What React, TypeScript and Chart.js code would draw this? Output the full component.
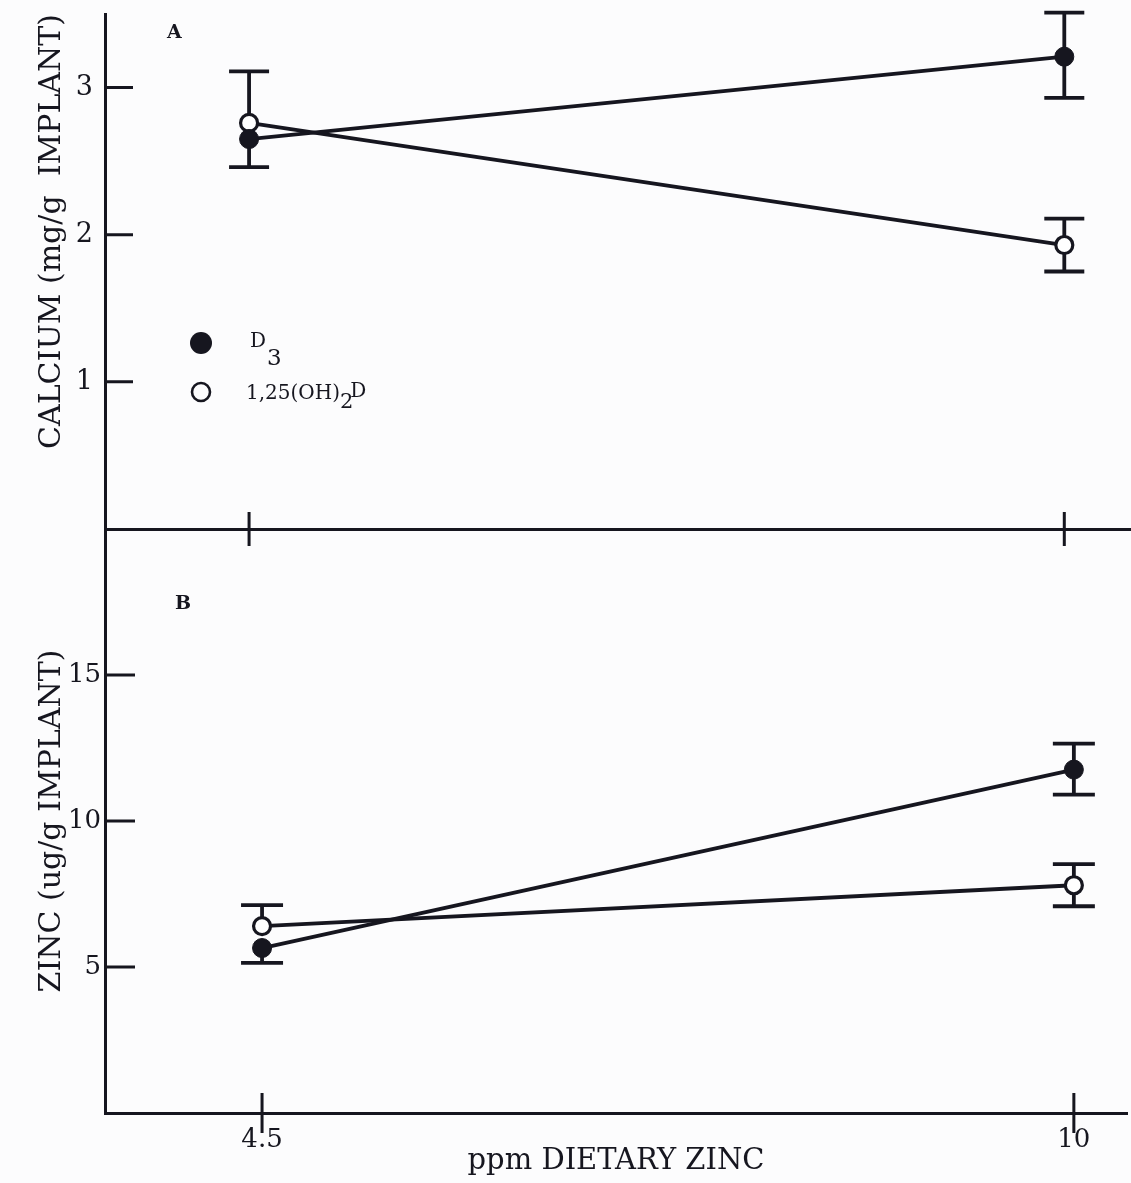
import { useEffect, useRef } from "react";
import { Chart, registerables } from "chart.js";

Chart.register(...registerables);

// Dietary zinc levels (ppm) on the shared x axis
const DIETARY_ZINC = [4.5, 10];
const X_TICKS = [4.5, 10];
const X_TICK_LABELS = ["4.5", "10"];

// Panel A: implant calcium (mg/g)
const CALCIUM_TICKS = [1, 2, 3];
const CALCIUM_D3 = [2.65, 3.21];
const CALCIUM_D3_SE_UP = [0, 0.3];
const CALCIUM_D3_SE_DOWN = [0.19, 0.28];
const CALCIUM_125 = [2.76, 1.93];
const CALCIUM_125_SE_UP = [0.35, 0.18];
const CALCIUM_125_SE_DOWN = [0, 0.18];

// Panel B: implant zinc (ug/g)
const ZINC_TICKS = [5, 10, 15];
const ZINC_D3 = [5.65, 11.76];
const ZINC_D3_SE_UP = [0, 0.89];
const ZINC_D3_SE_DOWN = [0.51, 0.86];
const ZINC_125 = [6.4, 7.8];
const ZINC_125_SE_UP = [0.72, 0.72];
const ZINC_125_SE_DOWN = [0, 0.72];

const INK = "#16161f";
const SERIF = '"DejaVu Serif", "Liberation Serif", serif';
const W = 1131;
const H_A = 550;
const H_B = 654;

function series(label: string, values: number[], seUp: number[], seDown: number[], filled: boolean) {
  return {
    label,
    data: DIETARY_ZINC.map((x, i) => ({ x, y: values[i] })),
    seUp,
    seDown,
    borderColor: INK,
    borderWidth: 3.8,
    pointRadius: filled ? 9.5 : 8.5,
    pointBorderWidth: filled ? 1 : 3.2,
    pointBackgroundColor: filled ? INK : "#ffffff",
    pointBorderColor: INK,
    pointHoverRadius: filled ? 9.5 : 8.5,
    showLine: true,
    fill: false,
    tension: 0,
  };
}

// Vertical standard-error bars with caps, drawn beneath lines and markers
function errorBarsPlugin(capHalf: number) {
  return {
    id: "errorBars",
    beforeDatasetsDraw(chart: any) {
      const { ctx } = chart;
      const xs = chart.scales.x;
      const ys = chart.scales.y;
      ctx.save();
      ctx.strokeStyle = INK;
      ctx.lineWidth = 3.8;
      chart.data.datasets.forEach((ds: any) => {
        ds.data.forEach((p: any, i: number) => {
          const up = ds.seUp[i];
          const dn = ds.seDown[i];
          const x = xs.getPixelForValue(p.x);
          const yTop = ys.getPixelForValue(p.y + up);
          const yBot = ys.getPixelForValue(p.y - dn);
          ctx.beginPath();
          ctx.moveTo(x, yTop);
          ctx.lineTo(x, yBot);
          if (up > 0) {
            ctx.moveTo(x - capHalf, yTop);
            ctx.lineTo(x + capHalf, yTop);
          }
          if (dn > 0) {
            ctx.moveTo(x - capHalf, yBot);
            ctx.lineTo(x + capHalf, yBot);
          }
          ctx.stroke();
        });
      });
      ctx.restore();
    },
  };
}

// Inward y tick marks and x tick marks that cross the axis line
function tickMarksPlugin(yLen: number, xHalf: number) {
  return {
    id: "tickMarks",
    afterDraw(chart: any) {
      const { ctx, chartArea } = chart;
      const xs = chart.scales.x;
      const ys = chart.scales.y;
      ctx.save();
      ctx.strokeStyle = INK;
      ctx.lineWidth = 3;
      ctx.beginPath();
      ys.ticks.forEach((t: any) => {
        const y = ys.getPixelForValue(t.value);
        ctx.moveTo(chartArea.left, y);
        ctx.lineTo(chartArea.left + yLen, y);
      });
      xs.ticks.forEach((t: any) => {
        const x = xs.getPixelForValue(t.value);
        ctx.moveTo(x, chartArea.bottom - xHalf);
        ctx.lineTo(x, chartArea.bottom + xHalf);
      });
      ctx.stroke();
      ctx.restore();
    },
  };
}

function panelLetterPlugin(letter: string, dx: number, dy: number) {
  return {
    id: "panelLetter",
    afterDraw(chart: any) {
      const { ctx, chartArea } = chart;
      ctx.save();
      ctx.fillStyle = INK;
      ctx.font = `bold 19px ${SERIF}`;
      ctx.textAlign = "left";
      ctx.textBaseline = "middle";
      ctx.fillText(letter, chartArea.left + dx, chartArea.top + dy);
      ctx.restore();
    },
  };
}

// Key for the two treatments, with sub/superscript placement of the labels
const legendPlugin = {
  id: "treatmentKey",
  afterDraw(chart: any) {
    const { ctx, chartArea } = chart;
    const mx = chartArea.left + 96;
    const y1 = chartArea.top + 329;
    const y2 = chartArea.top + 378;
    ctx.save();
    ctx.fillStyle = INK;
    ctx.strokeStyle = INK;
    ctx.beginPath();
    ctx.arc(mx, y1, 11, 0, Math.PI * 2);
    ctx.fill();
    ctx.lineWidth = 2.6;
    ctx.beginPath();
    ctx.arc(mx, y2, 9, 0, Math.PI * 2);
    ctx.stroke();

    ctx.textAlign = "left";
    ctx.textBaseline = "alphabetic";
    ctx.font = `20px ${SERIF}`;
    const tx = chartArea.left + 145;
    ctx.fillText("D", tx, y1 + 4);
    const dW = ctx.measureText("D").width;
    ctx.font = `23px ${SERIF}`;
    ctx.fillText("3", tx + dW + 1, y1 + 22);

    ctx.font = `20px ${SERIF}`;
    const main = "1,25(OH)";
    const t2x = chartArea.left + 141;
    ctx.fillText(main, t2x, y2 + 7);
    const mW = ctx.measureText(main).width;
    ctx.font = `21px ${SERIF}`;
    ctx.fillText("2", t2x + mW, y2 + 16);
    const twoW = ctx.measureText("2").width;
    ctx.font = `20px ${SERIF}`;
    ctx.fillText("D", t2x + mW + twoW - 3, y2 + 5);
    ctx.restore();
  },
};

function baseOptions(opts: {
  xMin: number;
  xMax: number;
  yMin: number;
  yMax: number;
  yTicks: number[];
  yTitle: string;
  yTitleAlign: "start" | "center" | "end";
  yTickSize: number;
  yTickPadding: number;
  showXLabels: boolean;
  xAxisHeight: number;
  padTop: number;
  padRight: number;
}) {
  const noScalePadding = (s: any) => {
    s.paddingTop = 0;
    s.paddingBottom = 0;
    s.paddingLeft = 0;
    s.paddingRight = 0;
  };
  return {
    responsive: false,
    animation: false as const,
    events: [],
    layout: {
      autoPadding: false,
      padding: { top: opts.padTop, right: opts.padRight, left: 0, bottom: 0 },
    },
    plugins: {
      legend: { display: false },
      tooltip: { enabled: false },
    },
    scales: {
      x: {
        type: "linear" as const,
        min: opts.xMin,
        max: opts.xMax,
        afterBuildTicks: (s: any) => {
          s.ticks = X_TICKS.map((v) => ({ value: v }));
        },
        afterFit: (s: any) => {
          s.height = opts.xAxisHeight;
          noScalePadding(s);
        },
        grid: { display: false, drawTicks: false },
        border: { display: true, color: INK, width: 3 },
        ticks: {
          display: opts.showXLabels,
          padding: 12,
          color: INK,
          font: { family: SERIF, size: 26 },
          callback: (_v: any, i: number) => X_TICK_LABELS[i],
        },
        title: {
          display: opts.showXLabels,
          text: "ppm DIETARY ZINC",
          color: INK,
          font: { family: SERIF, size: 29 },
          padding: { top: 0, bottom: 4 },
        },
      },
      y: {
        type: "linear" as const,
        min: opts.yMin,
        max: opts.yMax,
        afterBuildTicks: (s: any) => {
          s.ticks = opts.yTicks.map((v) => ({ value: v }));
        },
        afterFit: (s: any) => {
          s.width = 105;
          noScalePadding(s);
        },
        grid: { display: false, drawTicks: false },
        border: { display: true, color: INK, width: 3 },
        ticks: {
          padding: opts.yTickPadding,
          color: INK,
          font: { family: SERIF, size: opts.yTickSize },
          callback: (v: any) => String(v),
        },
        title: {
          display: true,
          text: opts.yTitle,
          align: opts.yTitleAlign,
          color: INK,
          font: { family: SERIF, size: 30 },
          padding: { top: 34, bottom: 0 },
        },
      },
    },
  };
}

export default function App() {
  const aRef = useRef<HTMLCanvasElement>(null);
  const bRef = useRef<HTMLCanvasElement>(null);

  useEffect(() => {
    const chartA = new Chart(aRef.current as HTMLCanvasElement, {
      type: "line",
      data: {
        datasets: [
          series("D3", CALCIUM_D3, CALCIUM_D3_SE_UP, CALCIUM_D3_SE_DOWN, true),
          series("1,25(OH)2D", CALCIUM_125, CALCIUM_125_SE_UP, CALCIUM_125_SE_DOWN, false),
        ] as any,
      },
      options: baseOptions({
        xMin: 3.528,
        xMax: 10.45,
        yMin: 0,
        yMax: 3.5,
        yTicks: CALCIUM_TICKS,
        yTitle: "CALCIUM (mg/g  IMPLANT)",
        yTitleAlign: "end",
        yTickSize: 27,
        yTickPadding: 12,
        showXLabels: false,
        xAxisHeight: H_A - 529,
        padTop: 14,
        padRight: 0,
      }) as any,
      plugins: [errorBarsPlugin(20), tickMarksPlugin(28, 17), panelLetterPlugin("A", 62, 19), legendPlugin],
    });

    const chartB = new Chart(bRef.current as HTMLCanvasElement, {
      type: "line",
      data: {
        datasets: [
          series("D3", ZINC_D3, ZINC_D3_SE_UP, ZINC_D3_SE_DOWN, true),
          series("1,25(OH)2D", ZINC_125, ZINC_125_SE_UP, ZINC_125_SE_DOWN, false),
        ] as any,
      },
      options: baseOptions({
        xMin: 3.436,
        xMax: 10.36,
        yMin: 0,
        yMax: 20,
        yTicks: ZINC_TICKS,
        yTitle: "ZINC (ug/g IMPLANT)",
        yTitleAlign: "center",
        yTickSize: 26,
        yTickPadding: 4,
        showXLabels: true,
        xAxisHeight: 1183 - 1113,
        padTop: 0,
        padRight: 4,
      }) as any,
      plugins: [errorBarsPlugin(21), tickMarksPlugin(30, 20), panelLetterPlugin("B", 70, 75)],
    });

    return () => {
      chartA.destroy();
      chartB.destroy();
    };
  }, []);

  return (
    <div
      style={{
        position: "absolute",
        left: 0,
        top: 0,
        width: W,
        height: 1183,
        background: "#fcfcfd",
        overflow: "hidden",
      }}
    >
      <canvas
        ref={aRef}
        width={W}
        height={H_A}
        style={{ position: "absolute", left: 0, top: 0, width: W, height: H_A }}
      />
      <canvas
        ref={bRef}
        width={W}
        height={H_B}
        style={{ position: "absolute", left: 0, top: 529, width: W, height: H_B }}
      />
    </div>
  );
}
